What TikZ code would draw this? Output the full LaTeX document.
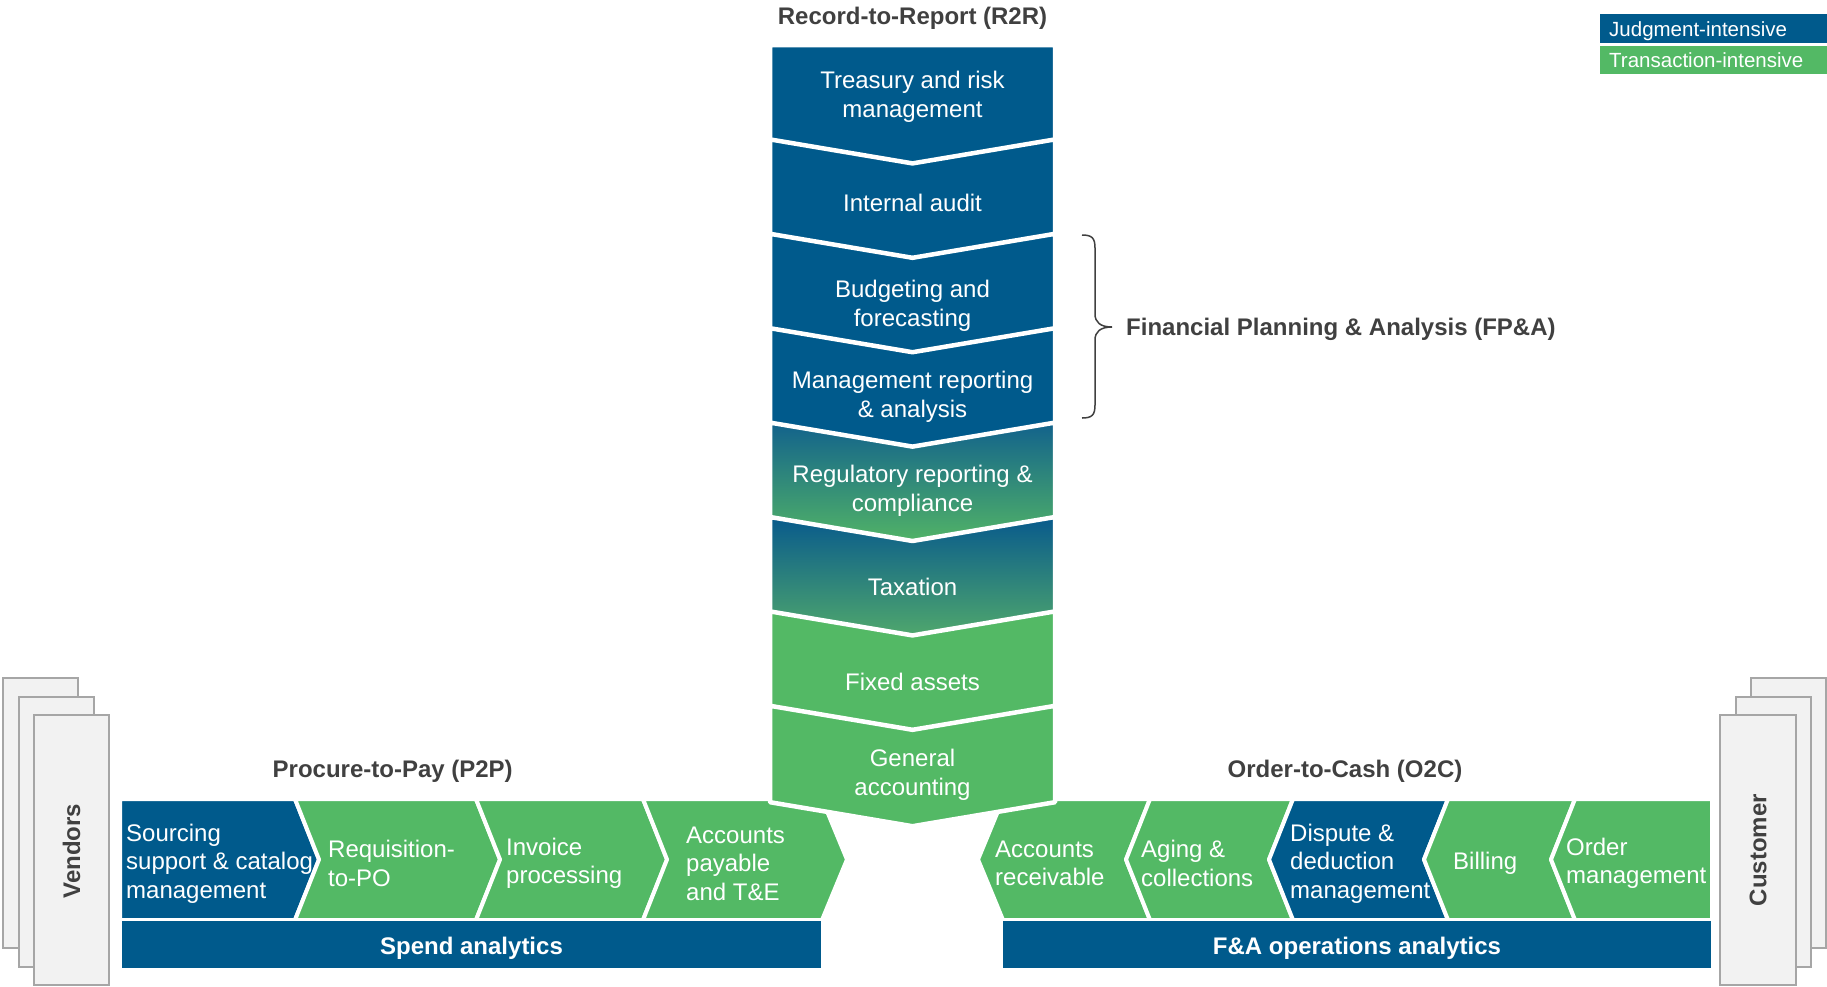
\documentclass[tikz,border=0pt]{standalone}
\usepackage{fontspec}
\setmainfont{Liberation Sans}
\definecolor{jblue}{RGB}{0,90,140}
\definecolor{tgreen}{RGB}{83,185,101}
\definecolor{dgrey}{RGB}{64,64,64}
\definecolor{boxfill}{RGB}{242,242,242}
\definecolor{boxline}{RGB}{166,166,166}
\definecolor{regtop}{RGB}{18,98,140}
\definecolor{regbot}{RGB}{82,180,102}
\definecolor{taxtop}{RGB}{8,90,140}
\definecolor{taxbot}{RGB}{80,168,108}
\newcommand\colseg[2]{%
  \pgfmathsetmacro\yt{45+94.4*#1}%
  \pgfmathsetmacro\yb{47+94.4*(#1+1)}%
  \pgfmathsetmacro\nd{ifthenelse(#1==0,0,24)}%
  \path[colchev,#2] (770,\yt) -- (912.5,\yt+\nd) -- (1055,\yt) -- (1055,\yb) -- (912.5,\yb+24) -- (770,\yb) -- cycle;}
\tikzset{
  chev/.style={draw=white, line width=4pt, line join=round},
  colchev/.style={draw=white, line width=4.5pt, line join=round},
  bluefill/.style={fill=jblue},
  greenfill/.style={fill=tgreen},
  wtxt/.style={text=white, font=\fontsize{24}{28.5}\selectfont, inner sep=0pt},
  ctxt/.style={wtxt, align=center},
  ltxt/.style={wtxt, align=left, anchor=west},
  bartxt/.style={text=white, font=\fontsize{24}{28}\selectfont\bfseries, inner sep=0pt},
  title/.style={text=dgrey, font=\fontsize{24}{28}\selectfont\bfseries, inner sep=0pt},
  legtxt/.style={text=white, font=\fontsize{20.5}{24}\selectfont, inner sep=0pt, anchor=west},
  stackbox/.style={fill=boxfill, draw=boxline, line width=1.5pt},
  bracepath/.style={draw=dgrey, line width=1.5pt},
}
\begin{document}
\begin{tikzpicture}[x=1pt,y=-1pt]
\useasboundingbox (0,0) rectangle (1827,986);

% legend
\fill[jblue] (1600,14) rectangle (1827,43);
\fill[tgreen] (1600,45.5) rectangle (1827,74);
\node[legtxt] (legj) at (1609,31) {Judgment-intensive};
\node[legtxt] (legt) at (1609,60) {Transaction-intensive};

% titles
\node[title] (r2r) at (912.5,18.5) {Record-to-Report (R2R)};
\node[title] (p2p) at (392.7,771.5) {Procure-to-Pay (P2P)};
\node[title] (o2c) at (1345,771.5) {Order-to-Cash (O2C)};

% vendors stack
\draw[stackbox] (3,678) rectangle (78,948);
\draw[stackbox] (19,697) rectangle (94,967);
\draw[stackbox] (34,715) rectangle (109,985);
\node[title, rotate=90] (vendors) at (71.5,851) {Vendors};

% customer stack
\draw[stackbox] (1751,678) rectangle (1826,948);
\draw[stackbox] (1736,697) rectangle (1811,967);
\draw[stackbox] (1720,715) rectangle (1796,985);
\node[title, rotate=90] (customer) at (1758,850) {Customer};

% P2P chevrons
\path[chev,bluefill] (120,799) -- (295,799) -- (319,859.5) -- (295,920) -- (120,920) -- cycle;
\path[chev,greenfill] (295,799) -- (476,799) -- (500,859.5) -- (476,920) -- (295,920) -- (319,859.5) -- cycle;
\path[chev,greenfill] (476,799) -- (643,799) -- (667,859.5) -- (643,920) -- (476,920) -- (500,859.5) -- cycle;
\path[chev,greenfill] (643,799) -- (822,799) -- (847,859.5) -- (822,920) -- (643,920) -- (667,859.5) -- cycle;

% O2C chevrons
\path[chev,greenfill] (1003,799) -- (1150,799) -- (1126,859.5) -- (1150,920) -- (1003,920) -- (978,859.5) -- cycle;
\path[chev,greenfill] (1150,799) -- (1293,799) -- (1269,859.5) -- (1293,920) -- (1150,920) -- (1126,859.5) -- cycle;
\path[chev,bluefill] (1293,799) -- (1448,799) -- (1424,859.5) -- (1448,920) -- (1293,920) -- (1269,859.5) -- cycle;
\path[chev,greenfill] (1448,799) -- (1575,799) -- (1551,859.5) -- (1575,920) -- (1448,920) -- (1424,859.5) -- cycle;
\path[chev,greenfill] (1575,799) -- (1712,799) -- (1712,920) -- (1575,920) -- (1551,859.5) -- cycle;

% chevron texts
\node[ltxt] (sourcing) at (126,863.5) {Sourcing\\support \& catalog\\management};
\node[ltxt] (requisition) at (328,863.5) {Requisition-\\to-PO};
\node[ltxt] (invoice) at (506,863.5) {Invoice\\processing};
\node[ltxt] (ap) at (686,863.5) {Accounts\\payable\\and T\&E};
\node[ltxt] (ar) at (995,863.5) {Accounts\\receivable};
\node[ltxt] (aging) at (1141,863.5) {Aging \&\\collections};
\node[ltxt] (dispute) at (1290,863.5) {Dispute \&\\deduction\\management};
\node[ltxt] (billing) at (1453,863.5) {Billing};
\node[ltxt] (order) at (1566,863.5) {Order\\management};

% analytics bars
\fill[jblue] (122,921) rectangle (821,968);
\fill[jblue] (1003,921) rectangle (1711,968);
\node[bartxt] (spend) at (471.5,948) {Spend analytics};
\node[bartxt] (fa) at (1357,948) {F\&A operations analytics};

% R2R column
\colseg{0}{bluefill}
\colseg{1}{bluefill}
\colseg{2}{bluefill}
\colseg{3}{bluefill}
\colseg{4}{top color=regtop, bottom color=regbot}
\colseg{5}{top color=taxtop, bottom color=taxbot}
\colseg{6}{greenfill}
\colseg{7}{greenfill}

\node[ctxt] (treasury) at (912.5,97) {Treasury and risk\\management};
\node[ctxt] (audit) at (912.5,203) {Internal audit};
\node[ctxt] (budget) at (912.5,306) {Budgeting and\\forecasting};
\node[ctxt] (mgmt) at (912.5,397) {Management reporting\\\& analysis};
\node[ctxt] (reg) at (912.5,491) {Regulatory reporting \&\\compliance};
\node[ctxt] (tax) at (912.5,586.5) {Taxation};
\node[ctxt] (fixed) at (912.5,681.5) {Fixed assets};
\node[ctxt] (general) at (912.5,775) {General\\accounting};

% FP&A brace
\path[bracepath] (1082,235) .. controls (1092,235) and (1095,238) .. (1095,248) -- (1095,314) .. controls (1095,322) and (1100,327) .. (1112,327) .. controls (1100,327) and (1095,332) .. (1095,340) -- (1095,405) .. controls (1095,415) and (1092,418) .. (1082,418);
\node[title, anchor=west] (fpa) at (1126,329) {Financial Planning \& Analysis (FP\&A)};
\end{tikzpicture}
\end{document}
